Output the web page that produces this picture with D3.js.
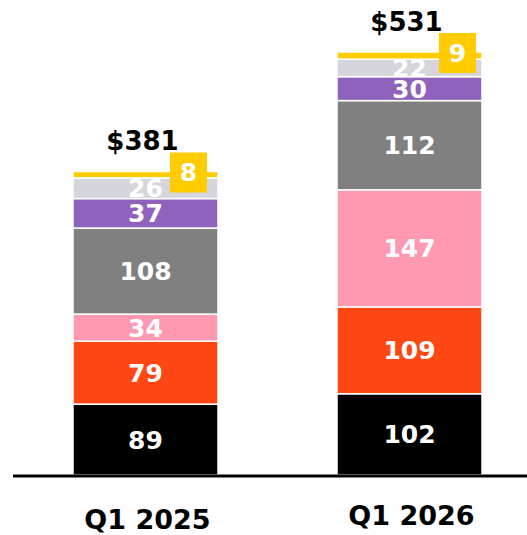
<!DOCTYPE html>
<html><head><meta charset="utf-8">
<script src="https://cdn.jsdelivr.net/npm/d3@7"></script>
<style>
html,body{margin:0;padding:0;background:#fff;}
svg{display:block;}
text{font-family:"DejaVu Sans",sans-serif;font-weight:700;}
</style></head>
<body>
<svg id="chart" width="527" height="535"></svg>
<script>
const categories = ["Q1 2025", "Q1 2026"];
const seriesNames = ["Segment A", "Segment B", "Segment C", "Segment D", "Segment E", "Segment F", "Segment G"];
const segA = [89, 102];
const segB = [79, 109];
const segC = [34, 147];
const segD = [108, 112];
const segE = [37, 30];
const segF = [26, 22];
const segG = [8, 9];
const totals = ["$381", "$531"];
const colors = ["#000000", "#FF4713", "#FF99B2", "#808080", "#8F62BC", "#D6D5DD", "#FFCC00"];

const seriesValues = [segA, segB, segC, segD, segE, segF, segG];
const rows = categories.map((c, i) => {
  const r = {cat: c};
  seriesNames.forEach((s, j) => r[s] = seriesValues[j][i]);
  return r;
});
const stacked = d3.stack().keys(seriesNames)(rows);

const svg = d3.select("#chart");
const baseY = 475;
const y = d3.scaleLinear().domain([0, 531]).range([baseY, 52]);
const xs = d3.scaleBand().domain(categories).range([73, 482]).paddingInner(119/264).paddingOuter(0);

const g = svg.append("g");
stacked.forEach((layer, j) => {
  g.selectAll(null).data(layer).enter().append("rect")
    .attr("x", d => xs(d.data.cat))
    .attr("width", xs.bandwidth())
    .attr("y", d => y(d[1]))
    .attr("height", d => y(d[0]) - y(d[1]))
    .attr("fill", colors[j])
    .attr("stroke", "#fff")
    .attr("stroke-width", 1.5);
});

// segment labels (all but last)
stacked.slice(0, 6).forEach((layer, j) => {
  g.selectAll(null).data(layer).enter().append("text")
    .attr("x", d => xs(d.data.cat) + xs.bandwidth() / 2)
    .attr("y", d => (y(d[0]) + y(d[1])) / 2)
    .attr("dy", "0.36em")
    .attr("text-anchor", "middle")
    .attr("fill", "#fff")
    .attr("font-size", 25)
    .text(d => d[1] - d[0]);
});

// last segment: yellow box label
const last = stacked[6];
const boxW = 37, boxH = 40;
g.selectAll(null).data(last).enter().append("rect")
  .attr("x", (d, i) => xs(d.data.cat) + xs.bandwidth() - boxW - (i === 0 ? 11 : 6))
  .attr("y", d => y(d[1]) - 19)
  .attr("width", boxW).attr("height", boxH)
  .attr("fill", colors[6]);
g.selectAll(null).data(last).enter().append("text")
  .attr("x", (d, i) => xs(d.data.cat) + xs.bandwidth() - boxW / 2 - (i === 0 ? 11 : 6))
  .attr("y", d => y(d[1]) - 19 + boxH / 2)
  .attr("dy", "0.36em")
  .attr("text-anchor", "middle")
  .attr("fill", "#fff")
  .attr("font-size", 25)
  .text(d => d[1] - d[0]);

// totals
g.selectAll(null).data(last).enter().append("text")
  .attr("x", (d, i) => xs(d.data.cat) + xs.bandwidth() / 2 - 3)
  .attr("y", d => y(d[1]) - 21)
  .attr("text-anchor", "middle")
  .attr("fill", "#000")
  .attr("font-size", 26)
  .text((d, i) => totals[i]);

// baseline axis
svg.append("line").attr("x1", 13).attr("x2", 527).attr("y1", baseY + 1).attr("y2", baseY + 1)
  .attr("stroke", "#000").attr("stroke-width", 3);

// category labels
const axis = d3.axisBottom(xs).tickSize(0).tickPadding(0);
const ax = svg.append("g").attr("transform", `translate(0,${baseY})`).call(axis);
ax.select(".domain").remove();
ax.selectAll("text")
  .attr("x", (d, i) => i === 0 ? 2 : 2)
  .attr("y", (d, i) => i === 0 ? 54 : 50)
  .attr("dy", 0)
  .attr("font-size", 27)
  .attr("font-family", "'DejaVu Sans', sans-serif")
  .attr("font-weight", 700)
  .attr("fill", "#000");
</script>
</body></html>
